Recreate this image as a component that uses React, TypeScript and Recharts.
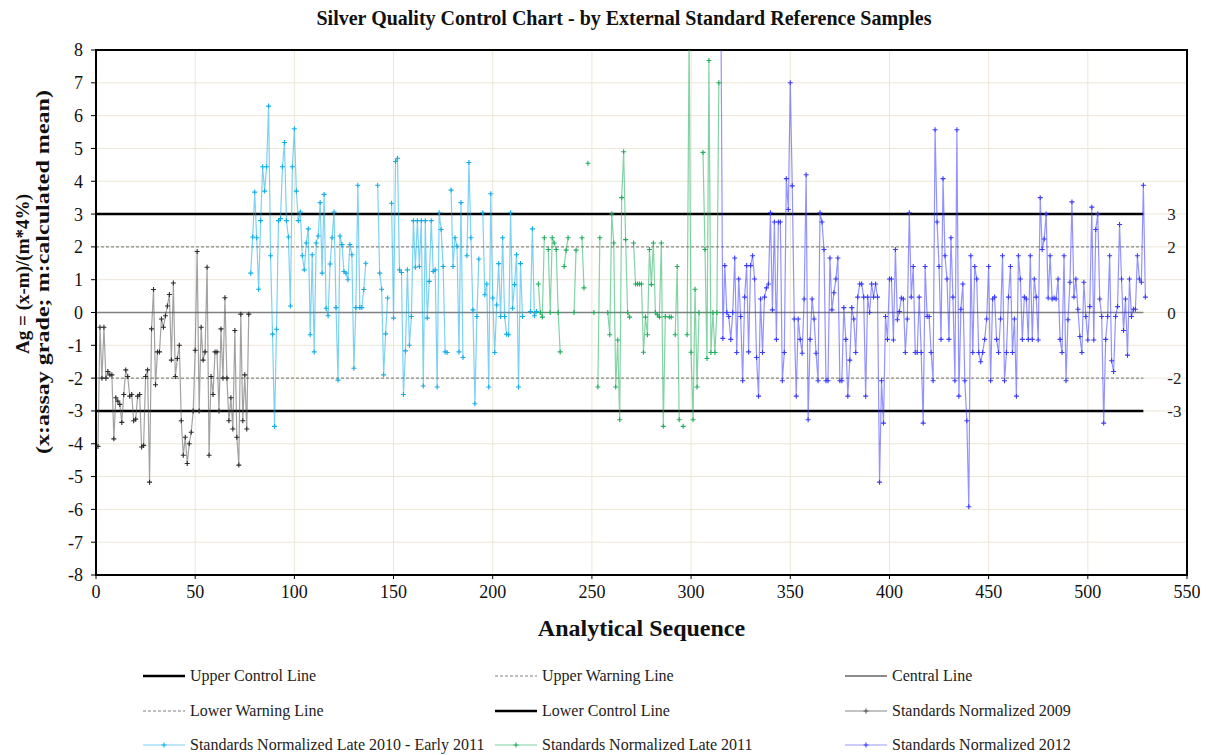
import React from 'react';
import {
  LineChart,
  Line,
  XAxis,
  YAxis,
  CartesianGrid,
  ReferenceLine,
  ReferenceArea,
  Label,
} from 'recharts';

const FONT = '"Liberation Serif", "Times New Roman", serif';

const X_TICKS = [0, 50, 100, 150, 200, 250, 300, 350, 400, 450, 500, 550];
const Y_TICKS = [-8, -7, -6, -5, -4, -3, -2, -1, 0, 1, 2, 3, 4, 5, 6, 7, 8];

// limit lines run from sequence 0 to the last sample
const LIMIT_START = 0;
const LIMIT_END = 528;
const UCL = 3;
const UWL = 2;
const CENTRAL = 0;
const LWL = -2;
const LCL = -3;

// sequence number of the first sample in each batch
const START_2009 = 1;
const START_2010 = 78;
const START_2011 = 223;
const START_2012 = 315;

const VALUES_2009 = [
  -4.08, -0.45, -2.0, -0.45, -2.0, -1.8, -1.9, -1.9, -3.85, -2.6,
  -2.7, -2.8, -3.35, -2.5, -1.75, -1.95, -2.55, -2.5, -3.3, -3.25,
  -2.55, -2.5, -4.1, -4.05, -1.95, -1.75, -5.17, -0.5, 0.7, -2.2,
  -1.2, -1.2, -0.2, -0.45, -0.1, 0.2, 0.55, -1.45, 0.9, -1.95,
  -1.4, -1.0, -3.3, -4.35, -3.8, -4.6, -4.0, -3.65, -3.0, -1.15,
  1.86, -3.0, -0.45, -1.45, -1.2, 1.38, -4.35, -1.95, -2.5, -1.2,
  -1.2, -3.0, -0.5, -2.0, 0.45, -2.0, -3.3, -2.6, -3.55, -0.55,
  -3.8, -4.65, -0.05, -3.3, -1.9, -3.55, -0.05,
];

const VALUES_2010 = [
  1.2, 2.3, 3.67, 2.28, 0.71, 2.8, 4.44, 3.7, 4.44, 6.29,
  1.73, -0.66, -3.47, -0.51, 2.8, 2.86, 4.44, 5.18, 2.8, 2.3,
  0.2, 4.44, 5.6, 3.7, 2.8, 3.06, 1.73, 1.3, 2.12, 2.55,
  -0.68, 1.76, -1.2, 2.12, 2.33, 3.35, 1.2, 3.6, 0.13, -0.1,
  1.48, 2.28, 3.06, 0.15, -2.06, 2.33, 2.07, 1.25, 1.2, 1.0,
  2.07, 1.76, -1.7, 0.15, 3.88, 0.15, 0.15, 0.7, 1.5, null,
  null, null, null, null, 3.88, 1.2, 0.71, -1.9, -0.65, 0.44,
  null, 3.33, -0.17, 4.6, 4.7, 1.3, 1.22, -2.5, -1.17, 1.3,
  -1.0, -0.12, 2.8, 1.38, 2.8, 1.4, 2.8, -2.24, 2.8, -0.17,
  0.95, 2.8, 1.25, 1.3, -2.27, 3.04, 2.53, 1.4, -1.2, -1.22,
  null, 3.73, 1.4, 2.28, 2.02, -1.2, 3.35, -1.37, null, 1.73,
  4.57, 2.28, 0.08, -2.78, -0.12, 1.63, null, 3.04, 0.54, 0.87,
  -2.27, 3.62, 0.44, -1.22, 0.23, 1.49, -0.12, 2.28, -0.12, -0.66,
  -0.68, 3.04, 0.13, 0.85, 1.76, -2.27, 1.49, -0.12, null, null,
  null, 0.03, 2.55, -0.1, 0.03,
];

const VALUES_2011 = [
  0.87, 0.0, -0.14, 2.28, null, 1.92, 0.0, 2.28, 2.12, 1.92,
  0.0, -1.2, null, 1.4, 1.9, 2.28, null, null, 0.0, 1.9,
  null, null, 2.28, 0.75, null, 4.55, null, null, 0.0, null,
  -2.27, 2.28, null, null, null, 0.0, -0.68, 3.0, 2.12, -2.27,
  -0.84, -3.27, 3.5, 4.9, 2.22, 0.0, -0.14, null, 2.12, 0.87,
  0.87, 0.87, 0.87, -1.21, -0.14, -0.68, 1.92, 0.85, 2.12, 0.0,
  -0.07, -0.14, 2.12, -3.47, -0.12, null, -0.14, -0.14, null, -0.68,
  1.4, -3.27, null, -3.47, null, -0.68, 8.5, -1.21, -3.27, 0.71,
  -2.27, 0.0, null, 4.88, 1.92, -1.4, 7.68, -1.22, 0.0, -1.22,
  0.0, 7.0,
];

const VALUES_2012 = [
  9.5, -0.79, 1.43, 0.0, -0.12, -0.82, 0.0, 1.66, -1.22, 1.02,
  -0.12, -2.08, 0.47, 1.43, -1.2, 1.43, 1.73, 1.02, -1.37, -2.55,
  0.41, -1.22, 0.47, 0.75, 0.87, 3.04, 0.08, 2.76, -0.82, 2.76,
  2.76, -2.08, -1.22, 4.08, 3.14, 7.0, 3.86, -0.2, -2.55, -0.2,
  -0.82, -1.24, 0.41, 4.2, -3.27, -0.82, 0.41, -0.2, -1.24, -2.08,
  3.04, 2.76, 1.92, -2.08, -2.08, 1.66, 0.08, 0.6, 1.02, 1.66,
  -2.08, -2.08, 0.15, -0.82, -2.55, -1.45, 0.15, -0.2, -1.22, 0.47,
  0.87, 0.87, 0.47, -2.55, 0.47, 0.0, 0.87, 0.47, 0.87, 0.47,
  -5.17, -2.08, -3.37, -0.12, -0.82, 1.02, 1.02, -0.84, 1.92, -0.22,
  0.03, 0.44, 0.41, -1.22, -0.2, 3.04, 0.47, 1.4, -1.22, -1.22,
  0.47, -1.22, -3.37, 1.4, -0.12, -0.12, -1.22, -2.08, 5.57, 2.76,
  1.4, -0.82, 4.08, 1.73, 1.02, -0.82, 2.28, 0.47, -2.08, 5.57,
  -2.55, 0.1, 0.87, -2.08, -3.3, -5.92, 1.73, -1.22, 1.4, 1.02,
  -1.22, -1.5, -1.22, -0.82, -0.2, 1.4, -2.08, 0.41, 0.47, -0.82,
  -1.22, -0.2, 1.73, -2.08, -1.22, 0.47, 1.4, -1.22, -0.2, -2.55,
  1.73, 1.02, -0.82, 0.47, 0.41, -0.82, 1.73, -0.82, 1.02, 0.47,
  -0.84, 3.5, 1.92, 2.24, 3.0, 0.44, 1.73, 0.41, 0.44, 0.41,
  1.02, -0.82, -1.22, 1.73, -2.08, -0.22, 0.92, 3.37, 0.47, 1.02,
  0.1, -0.73, -1.22, 0.92, -0.12, -0.84, 0.18, 3.21, -0.84, 2.53,
  3.0, 0.41, -0.12, -3.37, -0.82, -0.12, 1.73, -1.47, -1.8, -0.12,
  0.18, 2.68, 1.02, -0.55, 0.41, -1.3, 1.02, -0.12, 0.1, 0.1,
  1.73, 1.02, 0.92, 3.88, 0.47,
];

const toPoints = (start: number, values: (number | null)[]) =>
  values.map((v, i) => ({ x: start + i, y: v }));

const SERIES = [
  { name: 'Standards Normalized 2009', color: '#2b2b2b', line: '#555555', start: START_2009, values: VALUES_2009 },
  { name: 'Standards Normalized Late 2010 - Early 2011', color: '#12ade8', line: '#12ade8', start: START_2010, values: VALUES_2010 },
  { name: 'Standards Normalized Late 2011', color: '#1fae5c', line: '#1fae5c', start: START_2011, values: VALUES_2011 },
  { name: 'Standards Normalized 2012', color: '#3a3aff', line: '#3a3aff', start: START_2012, values: VALUES_2012 },
];

const plusDot = (color: string) => (props: any) => {
  const { cx, cy, index, value } = props;
  if (cx == null || cy == null || value == null || Number.isNaN(cy)) {
    return <g key={`d-${index}`} />;
  }
  return (
    <path
      key={`d-${index}`}
      d={`M${cx - 2.5},${cy}h5M${cx},${cy - 2.5}v5`}
      stroke={color}
      strokeWidth={1.1}
      fill="none"
    />
  );
};

const LIMITS = [
  { value: UCL, label: '3', stroke: '#000', width: 2.5, dash: undefined },
  { value: UWL, label: '2', stroke: '#707070', width: 1, dash: '3 2' },
  { value: CENTRAL, label: '0', stroke: '#808080', width: 1.6, dash: undefined },
  { value: LWL, label: '-2', stroke: '#707070', width: 1, dash: '3 2' },
  { value: LCL, label: '-3', stroke: '#000', width: 2.5, dash: undefined },
];

const LEGEND = [
  { name: 'Upper Control Line', stroke: '#000', width: 2.5, dash: undefined, marker: false },
  { name: 'Upper Warning Line', stroke: '#808080', width: 1, dash: '3 2', marker: false },
  { name: 'Central Line', stroke: '#666', width: 1.6, dash: undefined, marker: false },
  { name: 'Lower Warning Line', stroke: '#808080', width: 1, dash: '3 2', marker: false },
  { name: 'Lower Control Line', stroke: '#000', width: 2.5, dash: undefined, marker: false },
  { name: SERIES[0].name, stroke: '#888', width: 1.2, dash: undefined, marker: true, mark: '#555' },
  { name: SERIES[1].name, stroke: '#7fd2f4', width: 1.2, dash: undefined, marker: true, mark: SERIES[1].color },
  { name: SERIES[2].name, stroke: '#7fd3a2', width: 1.2, dash: undefined, marker: true, mark: SERIES[2].color },
  { name: SERIES[3].name, stroke: '#9a9aff', width: 1.2, dash: undefined, marker: true, mark: SERIES[3].color },
];

const LEGEND_COLS = [135, 487, 837];
const LEGEND_ROWS = [668, 703, 737];

const XTick = (props: any) => {
  const { x, y, payload } = props;
  return (
    <text x={x} y={y} dy="0.71em" textAnchor="middle" fontFamily={FONT} fontSize={18} fill="#111">
      {payload.value}
    </text>
  );
};

const YTick = (props: any) => {
  const { x, y, payload } = props;
  return (
    <text x={x} y={y} dy="0.36em" textAnchor="end" fontFamily={FONT} fontSize={18} fill="#111">
      {payload.value}
    </text>
  );
};

const yLabelText = (x: number, y: number, length: number, text: string) => (
  <text
    x={x}
    y={y}
    transform={`rotate(-90 ${x} ${y})`}
    textAnchor="middle"
    dominantBaseline="central"
    textLength={length}
    lengthAdjust="spacingAndGlyphs"
    fontFamily={FONT}
    fontWeight="bold"
    fontSize={19}
    fill="#111"
  >
    {text}
  </text>
);

const renderYLabel = () => (
  <g>
    {yLabelText(14, 266, 160, 'Ag = (x-m)/(m*4%)')}
    {yLabelText(34, 264, 364, '(x:assay grade; m:calculated mean)')}
  </g>
);

const renderXLabel = (props: any) => {
  const { viewBox } = props;
  return (
    <text
      x={viewBox.x + viewBox.width / 2}
      y={viewBox.y + 53}
      textAnchor="middle"
      dominantBaseline="central"
      fontFamily={FONT}
      fontWeight="bold"
      fontSize={24}
      fill="#111"
    >
      Analytical Sequence
    </text>
  );
};

export default function App() {
  return (
    <div style={{ position: 'relative', width: 1200, height: 747, fontFamily: FONT }}>
      <div
        style={{
          position: 'absolute',
          left: 16,
          top: -1,
          width: 1200,
          textAlign: 'center',
          fontWeight: 'bold',
          fontSize: 20,
          lineHeight: '22px',
          color: '#111',
        }}
      >
        Silver Quality Control Chart - by External Standard Reference Samples
      </div>

      <LineChart
        width={1200}
        height={640}
        margin={{ top: 42, right: 21, bottom: 43, left: 48 }}
        style={{ fontFamily: FONT }}
      >
        <CartesianGrid stroke="#ece6d6" strokeWidth={1} />
        <XAxis
          type="number"
          dataKey="x"
          domain={[0, 550]}
          ticks={X_TICKS}
          interval={0}
          allowDataOverflow
          height={30}
          axisLine={{ stroke: '#000', strokeWidth: 2 }}
          tickLine={{ stroke: '#000' }}
          tickSize={4}
          tickMargin={6}
          tick={<XTick />}
        >
          <Label content={renderXLabel} />
        </XAxis>
        <YAxis
          type="number"
          domain={[-8, 8]}
          ticks={Y_TICKS}
          interval={0}
          allowDataOverflow
          width={40}
          axisLine={{ stroke: '#000', strokeWidth: 2 }}
          tickLine={{ stroke: '#000' }}
          tickSize={5}
          tickMargin={8}
          tick={<YTick />}
        >
          <Label content={renderYLabel} />
        </YAxis>

        {LIMITS.map((l) => (
          <ReferenceLine
            key={l.label}
            segment={[
              { x: LIMIT_START, y: l.value },
              { x: LIMIT_END, y: l.value },
            ]}
            stroke={l.stroke}
            strokeWidth={l.width}
            strokeDasharray={l.dash}
            label={{
              value: l.label,
              position: 'right',
              offset: 24,
              fill: '#222',
              fontSize: 17,
              fontFamily: FONT,
            }}
          />
        ))}

        {SERIES.map((s) => (
          <Line
            key={s.name}
            name={s.name}
            data={toPoints(s.start, s.values)}
            dataKey="y"
            type="linear"
            stroke={s.line}
            strokeOpacity={0.55}
            strokeWidth={1.2}
            dot={plusDot(s.color)}
            activeDot={false}
            connectNulls={false}
            isAnimationActive={false}
          />
        ))}

        <ReferenceArea
          x1={0}
          x2={550}
          y1={-8}
          y2={8}
          fill="none"
          stroke="#000"
          strokeWidth={2}
          ifOverflow="visible"
        />
      </LineChart>

      {LEGEND.map((item, i) => {
        const left = LEGEND_COLS[i % 3];
        const top = LEGEND_ROWS[Math.floor(i / 3)];
        return (
          <div
            key={item.name}
            style={{
              position: 'absolute',
              left,
              top: top - 11,
              height: 22,
              display: 'flex',
              alignItems: 'center',
              whiteSpace: 'nowrap',
              fontSize: 16,
              color: '#222',
            }}
          >
            <svg width={42} height={12} style={{ marginRight: 5 }}>
              <line
                x1={0}
                y1={6}
                x2={42}
                y2={6}
                stroke={item.stroke}
                strokeWidth={item.width}
                strokeDasharray={item.dash}
              />
              {item.marker && (
                <path d="M18.5,6h5M21,3.5v5" stroke={item.mark} strokeWidth={1.1} fill="none" />
              )}
            </svg>
            <span>{item.name}</span>
          </div>
        );
      })}
    </div>
  );
}
